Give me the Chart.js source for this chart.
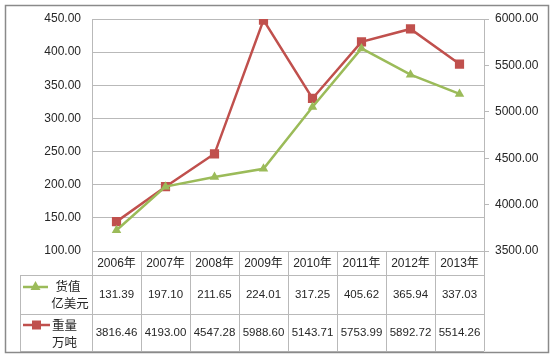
<!DOCTYPE html>
<html>
<head>
<meta charset="utf-8">
<script src="https://cdn.jsdelivr.net/npm/chart.js@4"></script>
<style>
  body { margin: 0; background: #fff; }
</style>
</head>
<body>
<canvas id="myChart" width="550" height="359"></canvas>
<script>
// data
const years = ['2006年', '2007年', '2008年', '2009年', '2010年', '2011年', '2012年', '2013年'];
const valueName = ['货值', '亿美元'];
const weightName = ['重量', '万吨'];
const valueData = [131.39, 197.10, 211.65, 224.01, 317.25, 405.62, 365.94, 337.03];
const weightData = [3816.46, 4193.00, 4547.28, 5988.60, 5143.71, 5753.99, 5892.72, 5514.26];

const green = '#9bbb59';
const red = '#c0504d';
const gridColor = '#b9b9b9';
const textColor = '#262626';
const family = '"Liberation Sans", "Noto Sans CJK SC", sans-serif';
const yearFont = '12px ' + family;
const numFont = '11.5px ' + family;
const cjkFont = '12.5px "Noto Sans CJK SC", sans-serif';

function marker(ctx, type, x, y, color) {
    ctx.save();
    ctx.fillStyle = color;
    ctx.beginPath();
    if (type === 'rect') {
        ctx.rect(x - 4.5, y - 4.5, 9, 9);
    } else {
        ctx.moveTo(x, y - 5);
        ctx.lineTo(x + 5, y + 4);
        ctx.lineTo(x - 5, y + 4);
        ctx.closePath();
    }
    ctx.fill();
    ctx.restore();
}

// draws the data table under the plot and the outer frame
const tablePlugin = {
    id: 'table',
    afterDraw(chart) {
        const ctx = chart.ctx;
        const area = chart.chartArea;
        const x = chart.scales.x;
        const step = (area.right - area.left) / years.length;
        const top = area.bottom;
        const row1 = top + 24;
        const row2 = row1 + 39;
        const bottom = 351;
        const left = 20;

        ctx.save();
        ctx.strokeStyle = gridColor;
        ctx.lineWidth = 1;
        ctx.beginPath();
        // vertical column lines
        for (let i = 0; i <= years.length; i++) {
            const px = Math.round(area.left + i * step) + 0.5;
            ctx.moveTo(px, top);
            ctx.lineTo(px, bottom);
        }
        ctx.moveTo(left + 0.5, row1);
        ctx.lineTo(left + 0.5, bottom);
        // horizontal lines
        [row1, row2].forEach(py => {
            ctx.moveTo(left, py + 0.5);
            ctx.lineTo(area.right, py + 0.5);
        });
        ctx.moveTo(left, bottom + 0.5);
        ctx.lineTo(area.right, bottom + 0.5);
        ctx.stroke();

        // cell texts
        ctx.fillStyle = textColor;
        ctx.textAlign = 'center';
        ctx.textBaseline = 'middle';
        years.forEach((year, i) => {
            const cx = x.getPixelForValue(i);
            ctx.font = yearFont;
            ctx.fillText(year, cx, top + 12.5);
            ctx.font = numFont;
            ctx.fillText(valueData[i].toFixed(2), cx, row1 + 20);
            ctx.fillText(weightData[i].toFixed(2), cx, row2 + 19);
        });

        // legend keys
        ctx.lineWidth = 2.5;
        ctx.strokeStyle = green;
        ctx.beginPath();
        ctx.moveTo(23, row1 + 12);
        ctx.lineTo(48, row1 + 12);
        ctx.stroke();
        marker(ctx, 'triangle', 35.5, row1 + 11, green);
        ctx.strokeStyle = red;
        ctx.beginPath();
        ctx.moveTo(23, row2 + 11);
        ctx.lineTo(50, row2 + 11);
        ctx.stroke();
        marker(ctx, 'rect', 36.5, row2 + 11, red);

        ctx.font = cjkFont;
        ctx.fillText(valueName[0], 68, row1 + 11);
        ctx.fillText(valueName[1], 70, row1 + 28);
        ctx.textAlign = 'left';
        ctx.fillText(weightName[0], 52, row2 + 11);
        ctx.fillText(weightName[1], 52, row2 + 28);

        // outer frame
        ctx.strokeStyle = '#8a8a8a';
        ctx.lineWidth = 1.5;
        ctx.strokeRect(5.5, 5.5, 543, 347);
        ctx.restore();
    }
};

const data = {
    labels: years,
    datasets: [{
        label: valueName.join(''),
        data: valueData,
        borderColor: green,
        backgroundColor: green,
        borderWidth: 2.5,
        pointStyle: 'triangle',
        pointRadius: 5.5,
        pointBorderWidth: 0,
        yAxisID: 'y'
    }, {
        label: weightName.join(''),
        data: weightData,
        borderColor: red,
        backgroundColor: red,
        borderWidth: 2.5,
        pointStyle: 'rect',
        pointRadius: 6.5,
        pointBorderWidth: 0,
        yAxisID: 'y1'
    }]
};

const config = {
    type: 'line',
    data,
    options: {
        responsive: false,
        animation: false,
        layout: { padding: { top: 19, bottom: 108, left: 0, right: 0 } },
        plugins: { legend: { display: false }, tooltip: { enabled: false } },
        scales: {
            x: { display: false, offset: true },
            y: {
                position: 'left',
                min: 100, max: 450,
                ticks: {
                    stepSize: 50, padding: 11, color: textColor,
                    font: { family: 'Liberation Sans', size: 12 },
                    callback: v => v.toFixed(2)
                },
                grid: { color: gridColor, drawTicks: false },
                border: { color: gridColor },
                afterFit(scale) { scale.width = 92; }
            },
            y1: {
                position: 'right',
                min: 3500, max: 6000,
                ticks: {
                    stepSize: 500, padding: 6, color: textColor,
                    font: { family: 'Liberation Sans', size: 12 },
                    callback: v => v.toFixed(2)
                },
                grid: { drawOnChartArea: false, color: gridColor, tickLength: 5 },
                border: { color: gridColor },
                afterFit(scale) { scale.width = 66; }
            }
        }
    },
    plugins: [tablePlugin]
};

const myChart = new Chart(
    document.getElementById('myChart').getContext('2d'),
    config
);
</script>
</body>
</html>
